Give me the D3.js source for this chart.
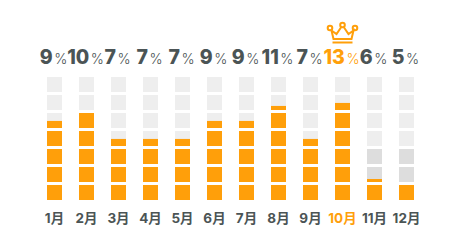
<!DOCTYPE html>
<html>
<head>
<meta charset="utf-8">
<script src="https://cdn.jsdelivr.net/npm/d3@7"></script>
<style>
  html, body { margin: 0; padding: 0; background: #fff; }
  svg { display: block; }
</style>
</head>
<body>
<svg id="chart"></svg>
<script>
var months = ["1月","2月","3月","4月","5月","6月","7月","8月","9月","10月","11月","12月"];
var percents = [9,10,7,7,7,9,9,11,7,13,6,5];
// filled height of each column, counted in blocks from the bottom
var levels = [4.47,5,3.47,3.47,3.47,4.47,4.47,5.27,3.47,5.47,1.2,1];
// how many of the lowest blocks are in the darker grey behind the orange
var darkBlocks = [0,0,0,0,0,0,0,0,0,0,3,3];
var blocks = [0,1,2,3,4,5,6];
var topMonth = "10月";

var orange = "#ff9f0a", ink = "#4b5455", light = "#eeeeee", dark = "#dddddd";
var font = "Inter, 'Noto Sans CJK JP', sans-serif";

var svg = d3.select("#chart").attr("width", 460).attr("height", 250);

var x = d3.scaleBand().domain(months).range([47, 414]).paddingInner(17/32).paddingOuter(0);
var y = d3.scaleBand().domain(blocks).range([200, 77]).paddingInner(3/18).paddingOuter(0);

months.forEach(function(m, i) {
    var g = svg.append("g").attr("transform", "translate(" + x(m) + ",0)");

    g.selectAll("rect.bg").data(blocks).enter().append("rect")
        .attr("class", "bg")
        .attr("y", function(b) { return y(b); })
        .attr("width", x.bandwidth())
        .attr("height", y.bandwidth())
        .attr("fill", function(b) { return b < darkBlocks[i] ? dark : light; });

    g.selectAll("rect.fill").data(blocks.filter(function(b) { return levels[i] > b; })).enter().append("rect")
        .attr("class", "fill")
        .attr("y", function(b) {
            return y(b) + y.bandwidth() * (1 - Math.min(1, levels[i] - b));
        })
        .attr("width", x.bandwidth())
        .attr("height", function(b) { return y.bandwidth() * Math.min(1, levels[i] - b); })
        .attr("fill", orange);

    var col = m === topMonth ? orange : ink;
    var label = g.append("text")
        .attr("x", x.bandwidth() / 2 - 1)
        .attr("y", 64)
        .attr("text-anchor", "middle")
        .attr("font-family", font)
        .attr("fill", col);
    label.append("tspan").attr("font-size", 19.5).attr("font-weight", 800).text(percents[i]);
    label.append("tspan").attr("font-size", 14).attr("font-weight", 300).attr("dx", 1.5).text("%");

    g.append("text")
        .attr("x", x.bandwidth() / 2)
        .attr("y", 222.5)
        .attr("text-anchor", "middle")
        .attr("font-family", font)
        .attr("font-size", 13.5)
        .attr("font-weight", 700)
        .attr("fill", col)
        .text(m);
});

// crown over the best month
var cx = x(topMonth) + x.bandwidth() / 2;
var crown = svg.append("g")
    .attr("transform", "translate(" + cx + ",0)")
    .attr("fill", "none")
    .attr("stroke", orange)
    .attr("stroke-width", 2);
crown.append("path").attr("d", "M-11,30.5 L-9,39 L9,39 L11,30.5 L6,34 L1.2,27 M-1.2,27 L-6,34 L-11,30.5");
crown.append("path").attr("d", "M-10,42.5 L10,42.5");
crown.selectAll("circle").data([[-12.5,28],[0,25],[12.5,28]]).enter().append("circle")
    .attr("cx", function(d) { return d[0]; })
    .attr("cy", function(d) { return d[1]; })
    .attr("r", 2.3);
</script>
</body>
</html>
